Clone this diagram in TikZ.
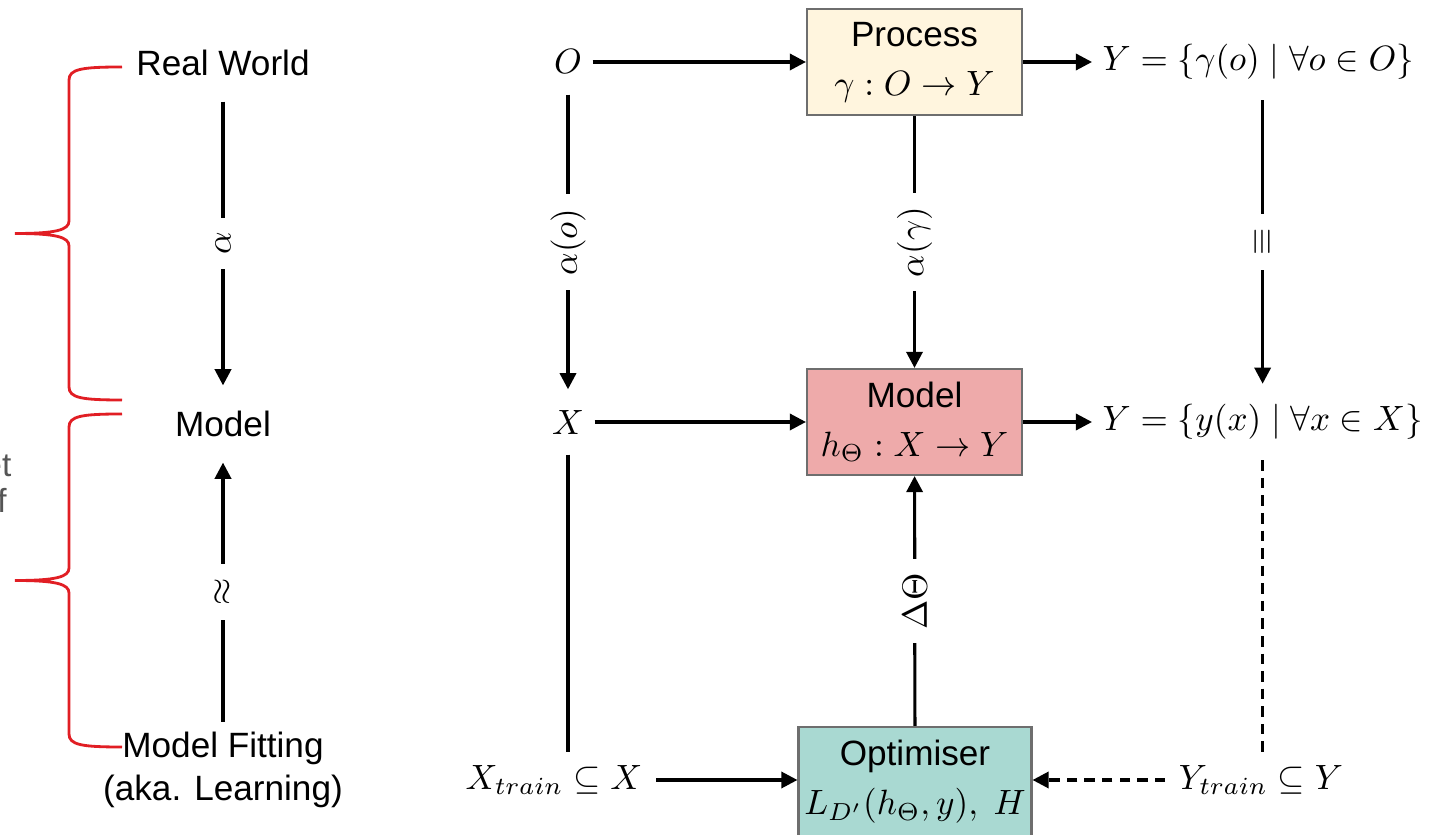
\documentclass[tikz,border=0pt]{standalone}
\usepackage[no-math]{fontspec}
\setmainfont{Liberation Sans}
\usetikzlibrary{arrows.meta}

\definecolor{procfill}{RGB}{255,245,222}
\definecolor{modelfill}{RGB}{238,170,170}
\definecolor{optfill}{RGB}{169,217,210}
\definecolor{boxline}{RGB}{110,110,110}
\definecolor{bracered}{RGB}{225,30,36}
\definecolor{textgray}{RGB}{85,85,85}

\begin{document}
\begin{tikzpicture}[
    box/.style={draw=boxline, line width=0.6pt, align=center, inner sep=0pt, minimum width=2.15cm, minimum height=1.06cm},
    term/.style={inner xsep=0.1cm, inner ysep=0.2cm},
    side/.style={inner sep=0.25cm},
    flow/.style={line width=0.9pt, -{Triangle[length=4.6pt, width=4.6pt]}},
    link/.style={line width=0.9pt},
    tag/.style={fill=white, rotate=90, inner sep=4pt},
    brace/.style={draw=bracered, line width=0.8pt}
  ]
    \useasboundingbox (0,0) rectangle (14.37,-8.35);

    % Klammern
    \foreach \dy in {0,3.47} {
      \draw[brace, yshift=-\dy cm] (1.22,-0.67) .. controls (0.82,-0.67) and (0.69,-0.69) .. (0.69,-0.80)
        -- (0.69,-2.21) .. controls (0.69,-2.30) and (0.56,-2.335) .. (0.15,-2.335)
        .. controls (0.56,-2.335) and (0.69,-2.37) .. (0.69,-2.46)
        -- (0.69,-3.87) .. controls (0.69,-3.98) and (0.82,-4.00) .. (1.22,-4.00);
    }
    \node[text=textgray, font=\fontsize{9.5}{10.3}\selectfont, inner sep=0pt, anchor=east, align=right] (cut) at (0.12,-4.84) {et\\f\kern1.3pt};

    % linke Spalte
    \node[side] (world) at (2.23,-0.63) {Real World};
    \node[side] (abstract) at (2.23,-4.24) {Model};
    \node[side, inner sep=0.1cm, align=center] (fitting) at (2.23,-7.70) {Model Fitting\\(aka. Learning)};

    % Knoten
    \node[term] (O) at (5.68,-0.62) {$O$};
    \node[box, fill=procfill] (process) at (9.145,-0.62) {Process\\[2pt]$\gamma : O \to Y$};
    \node[term, anchor=west] (Yproc) at (10.92,-0.62) {$Y = \{\gamma(o) \mid \forall o \in O\}$};
    \node[term] (X) at (5.68,-4.22) {$X$};
    \node[box, fill=modelfill] (model) at (9.145,-4.22) {Model\\[2pt]$h_\Theta : X \to Y$};
    \node[term, anchor=west] (Ymodel) at (10.92,-4.22) {$Y = \{y(x) \mid \forall x \in X\}$};
    \node[inner sep=0.13cm] (Xtrain) at (5.54,-7.80) {$X_{train} \subseteq X$};
    \node[box, fill=optfill, minimum width=2.33cm, minimum height=1.10cm] (optimiser) at (9.15,-7.82) {Optimiser\\[2pt]$L_{D'}(h_\Theta, y),\; H$};
    \node[inner sep=0.13cm] (Ytrain) at (12.61,-7.80) {$Y_{train} \subseteq Y$};

    % Kanten
    \draw[flow] (world) -- node[tag] {$\alpha$} (abstract);
    \draw[flow] (fitting) -- node[tag] {$\approx$} (abstract);
    \draw[flow] (O) -- (process);
    \draw[flow] (process) -- (Yproc);
    \draw[flow] (O) -- node[tag] {$\alpha(o)$} (X);
    \draw[flow] (process) -- node[tag] {$\alpha(\gamma)$} (model);
    \draw[flow] (Yproc.south -| Ymodel.north) -- node[tag] {$\equiv$} (Ymodel.north);
    \draw[flow] (X) -- (model);
    \draw[flow] (model) -- (Ymodel);
    \draw[link] (X) -- (X |- Xtrain.north);
    \draw[link, dash pattern=on 3pt off 2pt] (Ymodel) -- (Ymodel |- Ytrain.north);
    \draw[flow] (Xtrain) -- (Xtrain -| optimiser.west);
    \draw[flow, dash pattern=on 3pt off 2pt] (Ytrain) -- (Ytrain -| optimiser.east);
    \draw[flow] (optimiser) -- node[tag] {$\Delta\Theta$} (model);
\end{tikzpicture}
\end{document}
